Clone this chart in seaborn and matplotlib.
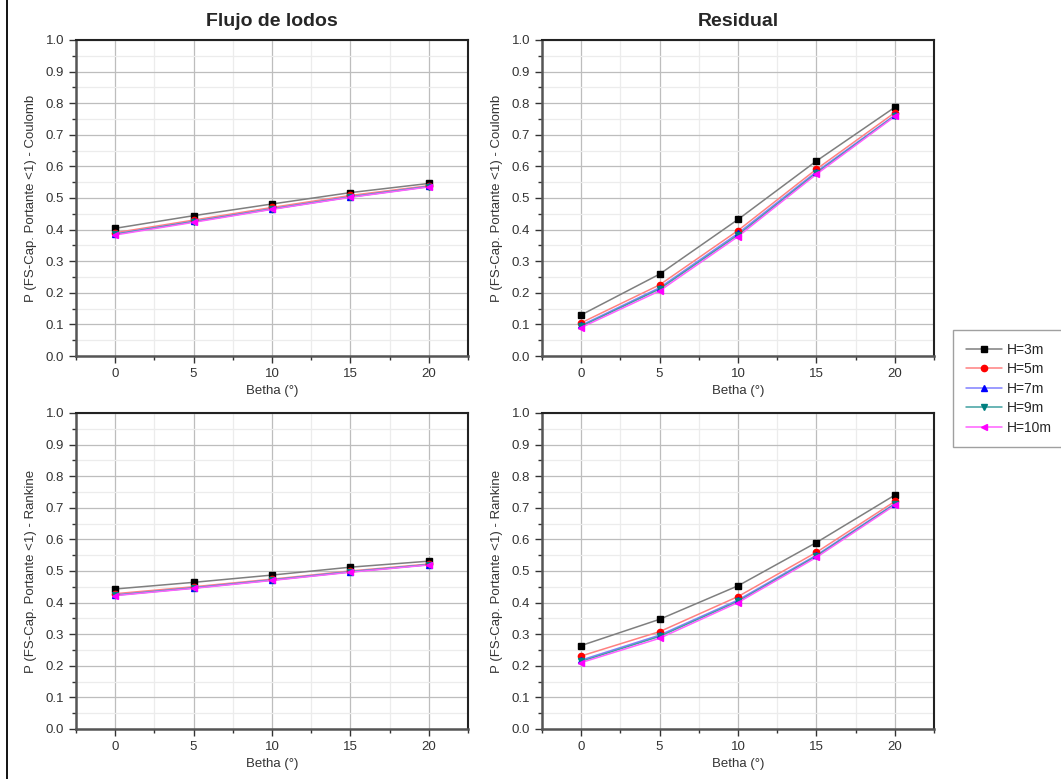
import numpy as np
import pandas as pd
import matplotlib.pyplot as plt
import seaborn as sns
from matplotlib.lines import Line2D
from matplotlib.ticker import MultipleLocator

# Datos
betha = [0, 5, 10, 15, 20]
alturas = ['H=3m', 'H=5m', 'H=7m', 'H=9m', 'H=10m']

flujo_coulomb = {
    'H=3m': [0.404, 0.444, 0.481, 0.517, 0.546],
    'H=5m': [0.390, 0.430, 0.470, 0.508, 0.539],
    'H=7m': [0.386, 0.426, 0.466, 0.504, 0.537],
    'H=9m': [0.385, 0.425, 0.465, 0.503, 0.536],
    'H=10m': [0.383, 0.423, 0.464, 0.502, 0.535],
}
residual_coulomb = {
    'H=3m': [0.130, 0.259, 0.432, 0.617, 0.787],
    'H=5m': [0.105, 0.225, 0.397, 0.591, 0.770],
    'H=7m': [0.097, 0.216, 0.388, 0.583, 0.762],
    'H=9m': [0.094, 0.212, 0.383, 0.579, 0.760],
    'H=10m': [0.090, 0.206, 0.378, 0.575, 0.758],
}
flujo_rankine = {
    'H=3m': [0.443, 0.464, 0.487, 0.512, 0.531],
    'H=5m': [0.428, 0.450, 0.474, 0.500, 0.522],
    'H=7m': [0.424, 0.447, 0.472, 0.498, 0.520],
    'H=9m': [0.423, 0.446, 0.471, 0.497, 0.520],
    'H=10m': [0.422, 0.445, 0.470, 0.496, 0.519],
}
residual_rankine = {
    'H=3m': [0.264, 0.347, 0.453, 0.590, 0.740],
    'H=5m': [0.231, 0.308, 0.419, 0.559, 0.720],
    'H=7m': [0.218, 0.297, 0.408, 0.550, 0.713],
    'H=9m': [0.214, 0.293, 0.404, 0.547, 0.711],
    'H=10m': [0.210, 0.287, 0.400, 0.543, 0.708],
}

col_marcador = ['#000000', '#ff0000', '#0000ff', '#008080', '#ff00ff']
col_linea = ['#7f7f7f', '#ff8080', '#8080ff', '#40a0a0', '#ff60ff']
marcadores = ['s', 'o', '^', 'v', '<']

sns.set_style('white')
plt.rcParams['font.family'] = ['Liberation Sans', 'DejaVu Sans']


def a_df(datos):
    filas = []
    for h in alturas:
        for b, p in zip(betha, datos[h]):
            filas.append({'Betha': b, 'P': p, 'H': h})
    return pd.DataFrame(filas)


fig = plt.figure(figsize=(10.61, 7.79), dpi=100)
posiciones = [
    [0.0716, 0.5430, 0.3695, 0.4057],
    [0.5108, 0.5430, 0.3695, 0.4057],
    [0.0716, 0.0642, 0.3695, 0.4057],
    [0.5108, 0.0642, 0.3695, 0.4057],
]
paneles = [
    (flujo_coulomb, 'P (FS-Cap. Portante <1) - Coulomb', 'Flujo de lodos'),
    (residual_coulomb, 'P (FS-Cap. Portante <1) - Coulomb', 'Residual'),
    (flujo_rankine, 'P (FS-Cap. Portante <1) - Rankine', None),
    (residual_rankine, 'P (FS-Cap. Portante <1) - Rankine', None),
]

for pos, (datos, ylab, titulo) in zip(posiciones, paneles):
    ax = fig.add_axes(pos)
    df = a_df(datos)
    sns.lineplot(data=df, x='Betha', y='P', hue='H', hue_order=alturas,
                 palette=col_linea, lw=1.1, legend=False, ax=ax, zorder=3)
    for i, h in enumerate(alturas):
        sub = df[df['H'] == h]
        ax.plot(sub['Betha'], sub['P'], ls='none', marker=marcadores[i],
                ms=4.5, color=col_marcador[i], zorder=4)
    ax.set_xlim(-2.5, 22.5)
    ax.set_ylim(0, 1.0)
    ax.xaxis.set_major_locator(MultipleLocator(5))
    ax.xaxis.set_minor_locator(MultipleLocator(2.5))
    ax.yaxis.set_major_locator(MultipleLocator(0.1))
    ax.yaxis.set_minor_locator(MultipleLocator(0.05))
    ax.yaxis.set_major_formatter(plt.FuncFormatter(lambda v, p: f'{v:.1f}'))
    ax.grid(which='major', color='#bdbdbd', lw=0.9, zorder=0)
    ax.grid(which='minor', color='#ececec', lw=0.9, zorder=0)
    ax.set_axisbelow(True)
    ax.tick_params(which='major', direction='out', length=5, width=1,
                   color='#333333', labelsize=9.5, labelcolor='#333333',
                   left=True, bottom=True)
    ax.tick_params(which='minor', direction='out', length=3, width=1,
                   color='#333333', left=True, bottom=True)
    for lado in ['left', 'bottom']:
        ax.spines[lado].set_color('#555555')
        ax.spines[lado].set_linewidth(1.8)
    for lado in ['top', 'right']:
        ax.spines[lado].set_color('#222222')
        ax.spines[lado].set_linewidth(1.5)
    ax.set_xlabel('Betha (°)', fontsize=9.5, color='#333333', labelpad=4)
    ax.set_ylabel(ylab, fontsize=9.5, color='#333333', labelpad=6)
    if titulo:
        ax.set_title(titulo, fontsize=14, fontweight='bold', pad=10)

manejadores = [Line2D([0], [0], color=col_linea[i], lw=1.1, marker=marcadores[i],
                      ms=4.5, markerfacecolor=col_marcador[i],
                      markeredgecolor=col_marcador[i])
               for i in range(len(alturas))]
leg = fig.legend(manejadores, alturas, loc='upper left',
                 bbox_to_anchor=(953 / 1061, 1 - 330 / 779),
                 fontsize=10, frameon=True, fancybox=False,
                 borderpad=0.9, handlelength=2.6, labelspacing=0.4,
                 handletextpad=0.4, borderaxespad=0)
leg.get_frame().set_edgecolor('#888888')
leg.get_frame().set_linewidth(1.0)

fig.add_artist(Line2D([7 / 1061, 7 / 1061], [0, 1], color='black', lw=1.3))

fig.savefig('out.png', dpi=100)
